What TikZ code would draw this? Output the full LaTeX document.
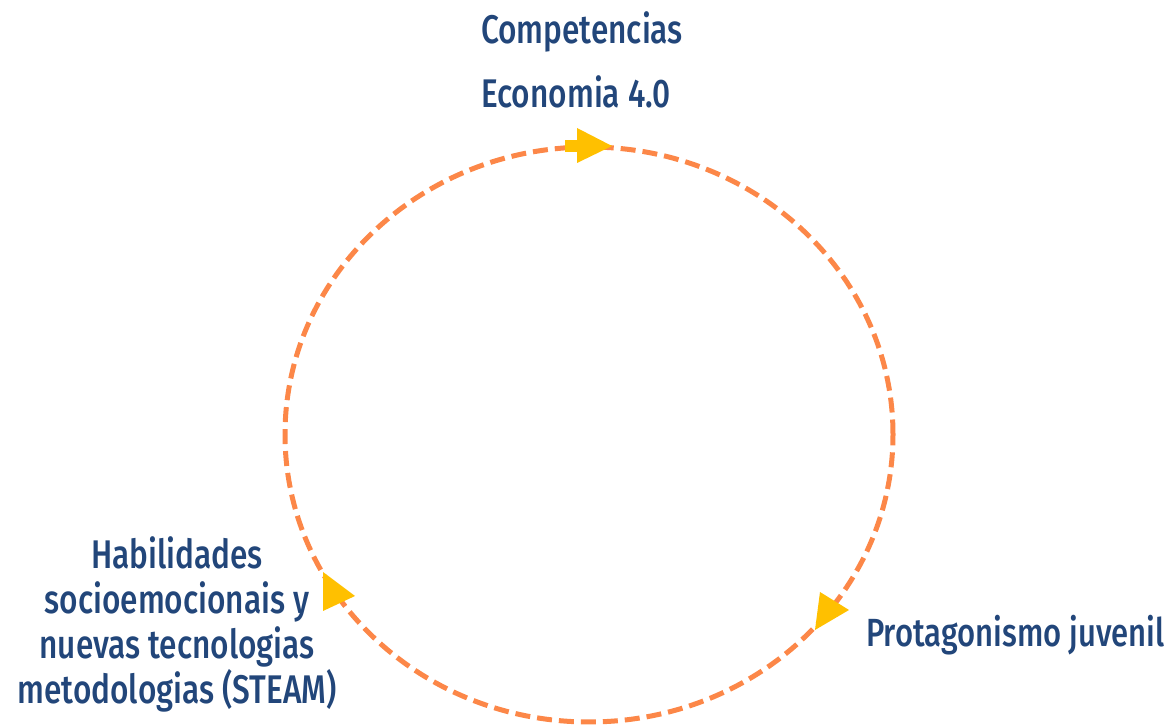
\documentclass[tikz,border=0pt]{standalone}
\usepackage{fontspec}
\setmainfont[FakeStretch=0.79]{Fira Sans Medium}
\definecolor{ring}{RGB}{252,135,72}
\definecolor{tip}{RGB}{255,192,0}
\definecolor{ink}{RGB}{34,70,122}
\begin{document}
\begin{tikzpicture}[x=1pt,y=1pt,
  lbl/.style={text=ink,inner sep=0pt,align=center,font=\fontsize{40}{45}\selectfont},
  ringline/.style={draw=ring,line width=5pt,dash pattern=on 15pt off 7pt},
  tipfill/.style={fill=tip,draw=none}]
\useasboundingbox (0,0) rectangle (1171,725);
% ring
\draw[ringline] (589,290.5) ellipse [x radius=304,y radius=287.5];
% arrow tips
\fill[tipfill] (565,585) rectangle (577,573);
\fill[tipfill] (577,597) -- (612,579) -- (577,562) -- cycle;
\fill[tipfill] (820,133) -- (849,115) -- (815,95) -- cycle;
\fill[tipfill] (323,153) -- (355,129) -- (323,114) -- cycle;
% labels
\node[lbl,anchor=base] (top1) at (582,681) {Competencias};
\node[lbl,anchor=base] (top2) at (576,617) {Economia 4.0};
\node[lbl,anchor=base west,font=\fontsize{39.3}{45}\selectfont] (right) at (866,78) {Protagonismo juvenil};
\node[lbl,anchor=north] (left) at (177,189) {Habilidades\\socioemocionais y\\nuevas tecnologias\\metodologias (STEAM)};
\end{tikzpicture}
\end{document}
